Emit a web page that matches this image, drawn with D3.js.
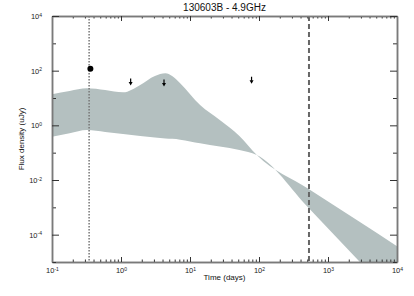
<!DOCTYPE html>
<html>
<head>
<meta charset="utf-8">
<script src="https://cdn.jsdelivr.net/npm/d3@7"></script>
<style>
  body { margin: 0; background: #fff; }
  svg { display: block; font-family: "Liberation Sans", Arial, sans-serif; }
</style>
</head>
<body>
<div id="chart"></div>
<script>
var width = 414, height = 296;
var margin = { top: 16, right: 17, bottom: 34, left: 52 };

// model band (days, uJy)
var tDays    = [0.1, 0.18, 0.32, 0.59, 1.07, 1.9, 3.1, 4.4, 5.5, 7.2, 14, 27, 52, 93, 525, 2900, 10000];
var fluxHigh = [13.6, 18, 22.6, 19.6, 16.1, 30, 64, 80, 64, 35, 5.5, 1.57, 0.41, 0.082, 0.0047, 2.9e-4, 3.8e-5];
var fluxLow  = [0.38, 0.51, 0.67, 0.57, 0.48, 0.41, 0.36, 0.33, 0.32, 0.30, 0.22, 0.167, 0.125, 0.082, 9.4e-4, 1e-5, 4e-7];

// detection and upper limits
var detT = [0.36], detF = [118];
var limT = [1.38, 4.2, 78], limF = [52, 48, 60];

var dottedT = 0.345, dashedT = 530;

var xMajor = [0.1, 1, 10, 100, 1000, 10000];
var yDecades = [1e4, 1e3, 1e2, 1e1, 1e0, 1e-1, 1e-2, 1e-3, 1e-4, 1e-5];
var yLabels = [1e4, 1e2, 1e0, 1e-2, 1e-4];

var svg = d3.select("#chart").append("svg")
  .attr("width", width)
  .attr("height", height);

var x = d3.scaleLog().domain([0.1, 1e4]).range([margin.left, width - margin.right]);
var y = d3.scaleLog().domain([1e-5, 1e4]).range([height - margin.bottom, margin.top]);

svg.append("clipPath").attr("id", "clip")
  .append("rect")
  .attr("x", margin.left).attr("y", margin.top)
  .attr("width", width - margin.left - margin.right)
  .attr("height", height - margin.top - margin.bottom);

var band = tDays.map(function (t, i) { return { t: t, hi: fluxHigh[i], lo: fluxLow[i] }; });

var area = d3.area()
  .x(function (d) { return x(d.t); })
  .y0(function (d) { return y(d.lo); })
  .y1(function (d) { return y(d.hi); })
  .curve(d3.curveMonotoneX);

var plot = svg.append("g").attr("clip-path", "url(#clip)");

plot.append("path")
  .datum(band)
  .attr("fill", "#b4c0c0")
  .attr("d", area);

plot.append("line")
  .attr("x1", x(dottedT)).attr("x2", x(dottedT))
  .attr("y1", margin.top).attr("y2", height - margin.bottom)
  .attr("stroke", "#777").attr("stroke-width", 1.5)
  .attr("stroke-dasharray", "1.5,1.5");

plot.append("line")
  .attr("x1", x(dashedT)).attr("x2", x(dashedT))
  .attr("y1", margin.top).attr("y2", height - margin.bottom)
  .attr("stroke", "#666").attr("stroke-width", 2)
  .attr("stroke-dasharray", "5,3");

plot.selectAll(".det")
  .data(detT)
  .enter().append("circle")
  .attr("class", "det")
  .attr("cx", function (d) { return x(d); })
  .attr("cy", function (d, i) { return y(detF[i]); })
  .attr("r", 3)
  .attr("fill", "#000");

var lim = plot.selectAll(".lim")
  .data(limT)
  .enter().append("g")
  .attr("class", "lim")
  .attr("transform", function (d, i) { return "translate(" + x(d) + "," + y(limF[i]) + ")"; });

lim.append("line")
  .attr("x1", 0).attr("x2", 0).attr("y1", 0).attr("y2", 4)
  .attr("stroke", "#000").attr("stroke-width", 1.2);

lim.append("path")
  .attr("d", "M-2,3.5L2,3.5L0,7Z")
  .attr("fill", "#000");

// axes
var axisColor = "#7a7a7a";

function supLabel(sel) {
  sel.selectAll("text").each(function (d) {
    var t = d3.select(this).text("");
    t.append("tspan").text("10");
    t.append("tspan").attr("dy", "-0.45em").attr("font-size", "5px").text(Math.round(Math.log10(d)));
  });
}

function minorX() {
  var v = [];
  for (var e = -1; e < 4; e++) {
    for (var k = 2; k < 10; k++) v.push(k * Math.pow(10, e));
  }
  return v;
}

function styleAxis(g) {
  g.select(".domain").attr("stroke", axisColor).attr("stroke-width", 1.5);
  g.selectAll(".tick line").attr("stroke", "#333");
  g.selectAll(".tick text").attr("fill", "#222").attr("font-size", "7.5px");
}

var bottomAxis = svg.append("g")
  .attr("transform", "translate(0," + (height - margin.bottom) + ")");
bottomAxis.append("g")
  .call(d3.axisBottom(x).tickValues(minorX()).tickSize(-2.5).tickFormat("").tickSizeOuter(0))
  .call(styleAxis);
bottomAxis.append("g")
  .call(d3.axisBottom(x).tickValues(xMajor).tickSizeInner(-5).tickSizeOuter(0).tickPadding(6))
  .call(styleAxis)
  .call(supLabel);

var topAxis = svg.append("g")
  .attr("transform", "translate(0," + margin.top + ")");
topAxis.append("g")
  .call(d3.axisTop(x).tickValues(minorX()).tickSize(-2.5).tickFormat("").tickSizeOuter(0))
  .call(styleAxis);
topAxis.append("g")
  .call(d3.axisTop(x).tickValues(xMajor).tickSize(-5).tickFormat("").tickSizeOuter(0))
  .call(styleAxis);

var oddDecades = yDecades.filter(function (d) { return yLabels.indexOf(d) < 0; });

var leftAxis = svg.append("g")
  .attr("transform", "translate(" + margin.left + ",0)");
leftAxis.append("g")
  .call(d3.axisLeft(y).tickValues(oddDecades).tickSize(-4).tickFormat("").tickSizeOuter(0))
  .call(styleAxis);
leftAxis.append("g")
  .call(d3.axisLeft(y).tickValues(yLabels).tickSizeInner(-7).tickSizeOuter(0).tickPadding(10))
  .call(styleAxis)
  .call(supLabel);

var rightAxis = svg.append("g")
  .attr("transform", "translate(" + (width - margin.right) + ",0)");
rightAxis.append("g")
  .call(d3.axisRight(y).tickValues(oddDecades).tickSize(-4).tickFormat("").tickSizeOuter(0))
  .call(styleAxis);
rightAxis.append("g")
  .call(d3.axisRight(y).tickValues(yLabels).tickSize(-7).tickFormat("").tickSizeOuter(0))
  .call(styleAxis);

// titles
svg.append("text")
  .attr("x", (margin.left + width - margin.right) / 2)
  .attr("y", 11)
  .attr("text-anchor", "middle")
  .attr("font-size", "10px")
  .attr("fill", "#111")
  .text("130603B - 4.9GHz");

svg.append("text")
  .attr("x", (margin.left + width - margin.right) / 2)
  .attr("y", 280)
  .attr("text-anchor", "middle")
  .attr("font-size", "8px")
  .attr("fill", "#111")
  .text("Time (days)");

svg.append("text")
  .attr("transform", "translate(24," + ((margin.top + height - margin.bottom) / 2) + ")rotate(-90)")
  .attr("text-anchor", "middle")
  .attr("font-size", "8px")
  .attr("fill", "#111")
  .text("Flux density (uJy)");
</script>
</body>
</html>
